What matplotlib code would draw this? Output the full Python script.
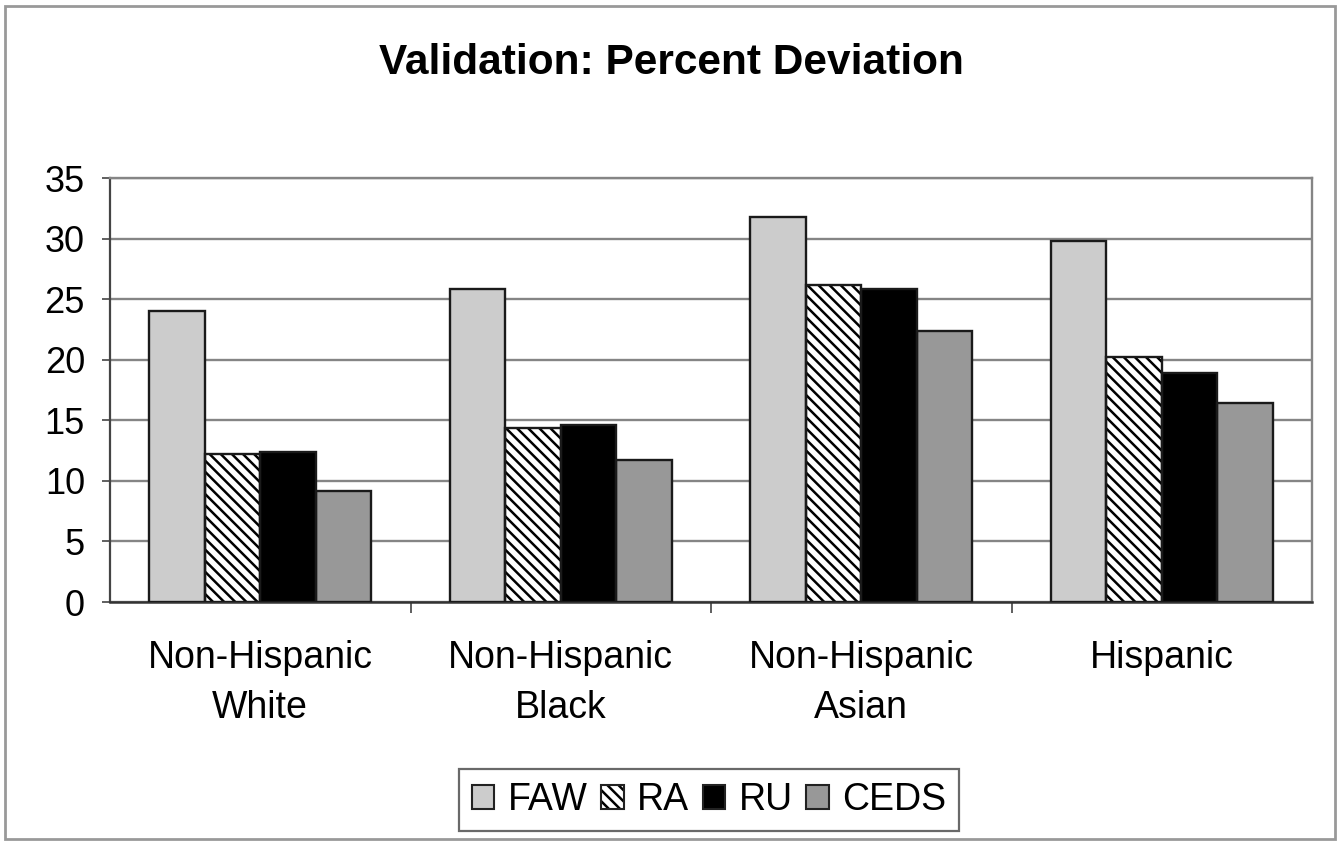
import numpy as np
import matplotlib
matplotlib.use("Agg")
import matplotlib.pyplot as plt
from matplotlib.patches import Patch, Rectangle

plt.rcParams['font.family'] = ['Liberation Sans', 'DejaVu Sans']
plt.rcParams['hatch.linewidth'] = 1.8

# percent deviation by group and method
groups = ["Non-Hispanic\nWhite", "Non-Hispanic\nBlack", "Non-Hispanic\nAsian", "Hispanic"]
methods = ["FAW", "RA", "RU", "CEDS"]
faw = [24.0, 25.8, 31.8, 29.8]
ra = [12.2, 14.4, 26.2, 20.2]
ru = [12.4, 14.6, 25.8, 18.9]
ceds = [9.2, 11.7, 22.4, 16.4]

# (face, hatch, hatch colour) per method
styles = [
    ('#cccccc', None, '#cccccc'),
    ('white', '\\\\\\', 'black'),
    ('black', None, 'black'),
    ('#989898', None, '#989898'),
]

fig = plt.figure(figsize=(13.42, 8.44), dpi=100)
ax = fig.add_axes([110 / 1342, 1 - 602 / 844, 1202 / 1342, 424 / 844])

x = np.arange(len(groups))
w = 0.185
handles = []
for i, (vals, (face, hatch, hcol)) in enumerate(zip([faw, ra, ru, ceds], styles)):
    pos = x + (i - 1.5) * w
    ax.bar(pos, vals, w, color=face, hatch=hatch, edgecolor=hcol, linewidth=0, zorder=3)
    ax.bar(pos, vals, w, fill=False, edgecolor='#1a1a1a', linewidth=1.7, zorder=4)
    handles.append((Patch(facecolor=face, hatch=hatch, edgecolor=hcol, linewidth=0),
                    Patch(fill=False, edgecolor='#222222', linewidth=1.5)))

ax.set_xlim(-0.5, 3.5)
ax.set_ylim(0, 35)
ax.set_yticks(np.arange(0, 36, 5))
ax.yaxis.grid(True, color='#858585', linewidth=1.7, zorder=0)
ax.set_axisbelow(True)

ax.set_xticks([0.5, 1.5, 2.5])
ax.set_xticklabels([])
ax.set_xticks(x, minor=True)
ax.set_xticklabels(groups, minor=True, fontsize=27, linespacing=1.5)
ax.tick_params(axis='x', which='major', direction='out', length=8, width=1.2, color='#444444')
ax.tick_params(axis='x', which='minor', length=0, pad=27)
ax.tick_params(axis='y', direction='out', length=6, width=1.2, color='#444444',
               labelsize=26, pad=12)

ax.spines['left'].set_color('#444444')
ax.spines['bottom'].set_color('#333333')
ax.spines['left'].set_linewidth(1.6)
ax.spines['bottom'].set_linewidth(1.8)
for side in ('top', 'right'):
    ax.spines[side].set_color('#858585')
    ax.spines[side].set_linewidth(1.7)

fig.text(0.5, 1 - 63 / 844, "Validation: Percent Deviation", ha='center', va='center',
         fontsize=30.5, fontweight='bold')

leg = fig.legend(handles, methods, loc='center', bbox_to_anchor=(709 / 1342, 1 - 800 / 844),
                 ncol=4, fontsize=27, frameon=True, fancybox=False, edgecolor='#444444',
                 handlelength=0.6, handleheight=0.6, handletextpad=0.35,
                 columnspacing=0.37, borderpad=0.35, borderaxespad=0)
leg.get_frame().set_linewidth(1.6)

# outer chart border
fig.patches.append(Rectangle((5 / 1342, 5 / 844), 1330 / 1342, 833 / 844,
                             transform=fig.transFigure, fill=False,
                             edgecolor='#999999', linewidth=2))

fig.savefig("out.png", dpi=100)
